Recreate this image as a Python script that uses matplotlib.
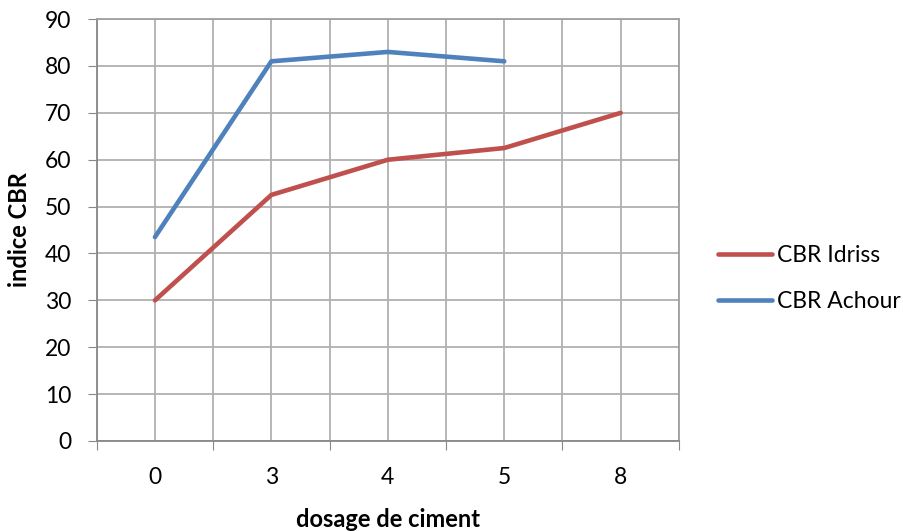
import matplotlib.pyplot as plt
import numpy as np

plt.rcParams['font.family'] = ['Lato', 'DejaVu Sans']

dosage = ['0', '3', '4', '5', '8']
cbr_idriss = [30, 52.5, 60, 62.5, 70]
cbr_achour = [43.5, 81, 83, 81]

x = np.arange(len(dosage))

fig = plt.figure(figsize=(9.04, 5.31), dpi=100)
ax = fig.add_axes([0.107, 0.1695, 0.644, 0.7945])

ax.plot(x, cbr_idriss, color='#C0504D', lw=3.3, solid_capstyle='round', label='CBR Idriss')
ax.plot(x[:len(cbr_achour)], cbr_achour, color='#4F81BD', lw=3.3, solid_capstyle='round', label='CBR Achour')

ax.set_xlim(-0.5, len(dosage) - 0.5)
ax.set_ylim(0, 90)
ax.set_yticks(range(0, 91, 10))

# tick marks between categories, labels at the centres
ax.set_xticks(np.arange(-0.5, len(dosage), 1.0))
ax.set_xticklabels([])
ax.set_xticks(x, minor=True)
ax.set_xticklabels(dosage, minor=True)
ax.tick_params(axis='x', which='major', length=6.5, color='#888888', direction='out')
ax.tick_params(axis='x', which='minor', length=0, pad=19, labelsize=16.5)
ax.tick_params(axis='y', length=6.5, color='#888888', labelsize=16.5, pad=12)

ax.grid(True, which='both', color='#B0B0B0', lw=1.3)
ax.set_axisbelow(True)
for s in ax.spines.values():
    s.set_color('#A0A0A0')
    s.set_linewidth(1.3)
ax.spines['left'].set_color('#888888')
ax.spines['bottom'].set_color('#888888')

ax.set_xlabel('dosage de ciment', fontsize=17, fontweight='bold', labelpad=14)
ax.set_ylabel('indice CBR', fontsize=17, fontweight='bold', labelpad=10)

ax.legend(loc='center left', bbox_to_anchor=(1.048, 0.385), frameon=False, fontsize=16.5,
          borderpad=0, handlelength=2.35, handletextpad=0.2, labelspacing=1.12)

fig.savefig('out.png', dpi=100)
